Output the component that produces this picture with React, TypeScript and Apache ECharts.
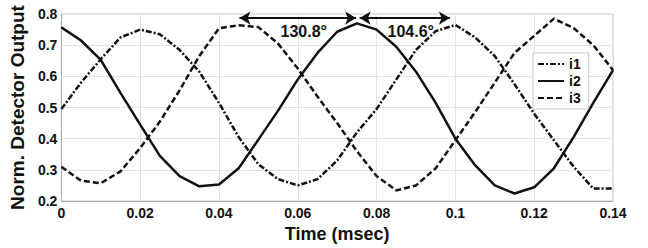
import React, { useEffect, useRef } from "react";
import * as echarts from "echarts";

const timeMs = [
  0, 0.005, 0.01, 0.015, 0.02, 0.025, 0.03, 0.035, 0.04, 0.045, 0.05, 0.055, 0.06, 0.065, 0.07,
  0.075, 0.08, 0.085, 0.09, 0.095, 0.1, 0.105, 0.11, 0.115, 0.12, 0.125, 0.13, 0.135, 0.14,
];
const i1 = [
  0.495, 0.58, 0.655, 0.725, 0.75, 0.735, 0.685, 0.615, 0.515, 0.405, 0.318, 0.27, 0.25, 0.27, 0.33,
  0.42, 0.495, 0.59, 0.685, 0.745, 0.765, 0.725, 0.665, 0.575, 0.48, 0.395, 0.31, 0.24, 0.24,
];
const i2 = [
  0.757, 0.715, 0.653, 0.547, 0.445, 0.345, 0.28, 0.247, 0.253, 0.305, 0.397, 0.49, 0.59, 0.675, 0.743,
  0.77, 0.75, 0.695, 0.615, 0.515, 0.4, 0.315, 0.25, 0.224, 0.244, 0.305, 0.405, 0.515, 0.62,
];
const i3 = [
  0.31, 0.265, 0.257, 0.295, 0.37, 0.455, 0.555, 0.665, 0.754, 0.764, 0.758, 0.705, 0.625, 0.535, 0.45,
  0.36, 0.28, 0.234, 0.25, 0.305, 0.395, 0.485, 0.58, 0.675, 0.73, 0.785, 0.755, 0.7, 0.62,
];
const xTickLabels = ["0", "0.02", "0.04", "0.06", "0.08", "0.1", "0.12", "0.14"];
const yTickLabels = ["0.2", "0.3", "0.4", "0.5", "0.6", "0.7", "0.8"];
const phaseArrows = [
  { from: 0.0452, to: 0.0748, level: 0.787, label: "130.8°" },
  { from: 0.0757, to: 0.0986, level: 0.787, label: "104.6°" },
];

const FONT = "'Liberation Sans', Arial, Helvetica, sans-serif";
const INK = "#111";

export default function App() {
  const ref = useRef<HTMLDivElement>(null);
  useEffect(() => {
    if (!ref.current) return;
    const chart = echarts.init(ref.current, undefined, { renderer: "svg" });
    const mk = (ys: number[]) => timeMs.map((t, i) => [t, ys[i]]);
    const lineBase = {
      type: "line" as const,
      symbol: "none",
      showSymbol: false,
      smooth: false,
    };
    chart.setOption({
      animation: false,
      textStyle: { fontFamily: FONT, color: INK },
      grid: {
        left: 58,
        right: 35,
        top: 14,
        bottom: 35,
        show: true,
        borderColor: "#c8c8c8",
        borderWidth: 1,
      },
      legend: {
        orient: "vertical",
        left: 533,
        top: 53,
        itemWidth: 26,
        itemHeight: 10,
        itemGap: 3,
        padding: [4, 8, 4, 4],
        backgroundColor: "#fff",
        borderColor: "#c8c8c8",
        borderWidth: 1,
        itemStyle: { opacity: 0 },
        textStyle: { fontFamily: FONT, fontWeight: "bold", fontSize: 14, color: INK },
        data: ["i1", "i2", "i3"],
      },
      xAxis: {
        type: "value",
        min: 0,
        max: 0.14,
        interval: 0.02,
        name: "Time (msec)",
        nameLocation: "middle",
        nameGap: 24,
        nameTextStyle: { fontFamily: FONT, fontWeight: "bold", fontSize: 18, color: INK },
        axisLine: { show: true, lineStyle: { color: "#aaa" } },
        axisTick: { show: false },
        axisLabel: {
          fontFamily: FONT,
          fontWeight: "bold",
          fontSize: 14,
          color: INK,
          margin: 5,
          formatter: (v: number) => xTickLabels[Math.round(v / 0.02)] ?? "",
        },
        splitLine: { show: true, lineStyle: { color: "#e2e2e2" } },
      },
      yAxis: {
        type: "value",
        min: 0.2,
        max: 0.8,
        interval: 0.1,
        name: "Norm. Detector Output",
        nameLocation: "middle",
        nameGap: 22,
        nameTextStyle: { fontFamily: FONT, fontWeight: "bold", fontSize: 19, color: INK },
        axisLine: { show: true, lineStyle: { color: "#aaa" } },
        axisTick: { show: false },
        axisLabel: {
          fontFamily: FONT,
          fontWeight: "bold",
          fontSize: 14,
          color: INK,
          margin: 4,
          formatter: (v: number) => yTickLabels[Math.round((v - 0.2) / 0.1)] ?? "",
        },
        splitLine: { show: true, lineStyle: { color: "#e2e2e2" } },
      },
      series: [
        {
          ...lineBase,
          name: "i1",
          data: mk(i1),
          lineStyle: { color: INK, width: 2.5, type: [6, 2, 2, 2] },
          itemStyle: { color: INK },
        },
        {
          ...lineBase,
          name: "i2",
          data: mk(i2),
          lineStyle: { color: INK, width: 2.5, type: "solid" },
          itemStyle: { color: INK },
          markLine: {
            silent: true,
            symbol: ["arrow", "arrow"],
            symbolSize: [10, 11],
            lineStyle: { color: INK, width: 2, type: "solid" },
            label: {
              show: true,
              position: "insideMiddleBottom",
              distance: 5,
              fontFamily: FONT,
              fontWeight: "bold",
              fontSize: 16,
              color: INK,
              offset: [6, 0],
              formatter: (p: any) => p.name,
            },
            data: phaseArrows.map((a) => [
              { coord: [a.from, a.level], name: a.label },
              { coord: [a.to, a.level] },
            ]),
          },
        },
        {
          ...lineBase,
          name: "i3",
          data: mk(i3),
          lineStyle: { color: INK, width: 2.5, type: [6, 3] },
          itemStyle: { color: INK },
        },
      ],
    });
    return () => chart.dispose();
  }, []);
  return (
    <div
      ref={ref}
      style={{ position: "fixed", left: 0, top: 0, width: 648, height: 248, background: "#fff" }}
    />
  );
}
